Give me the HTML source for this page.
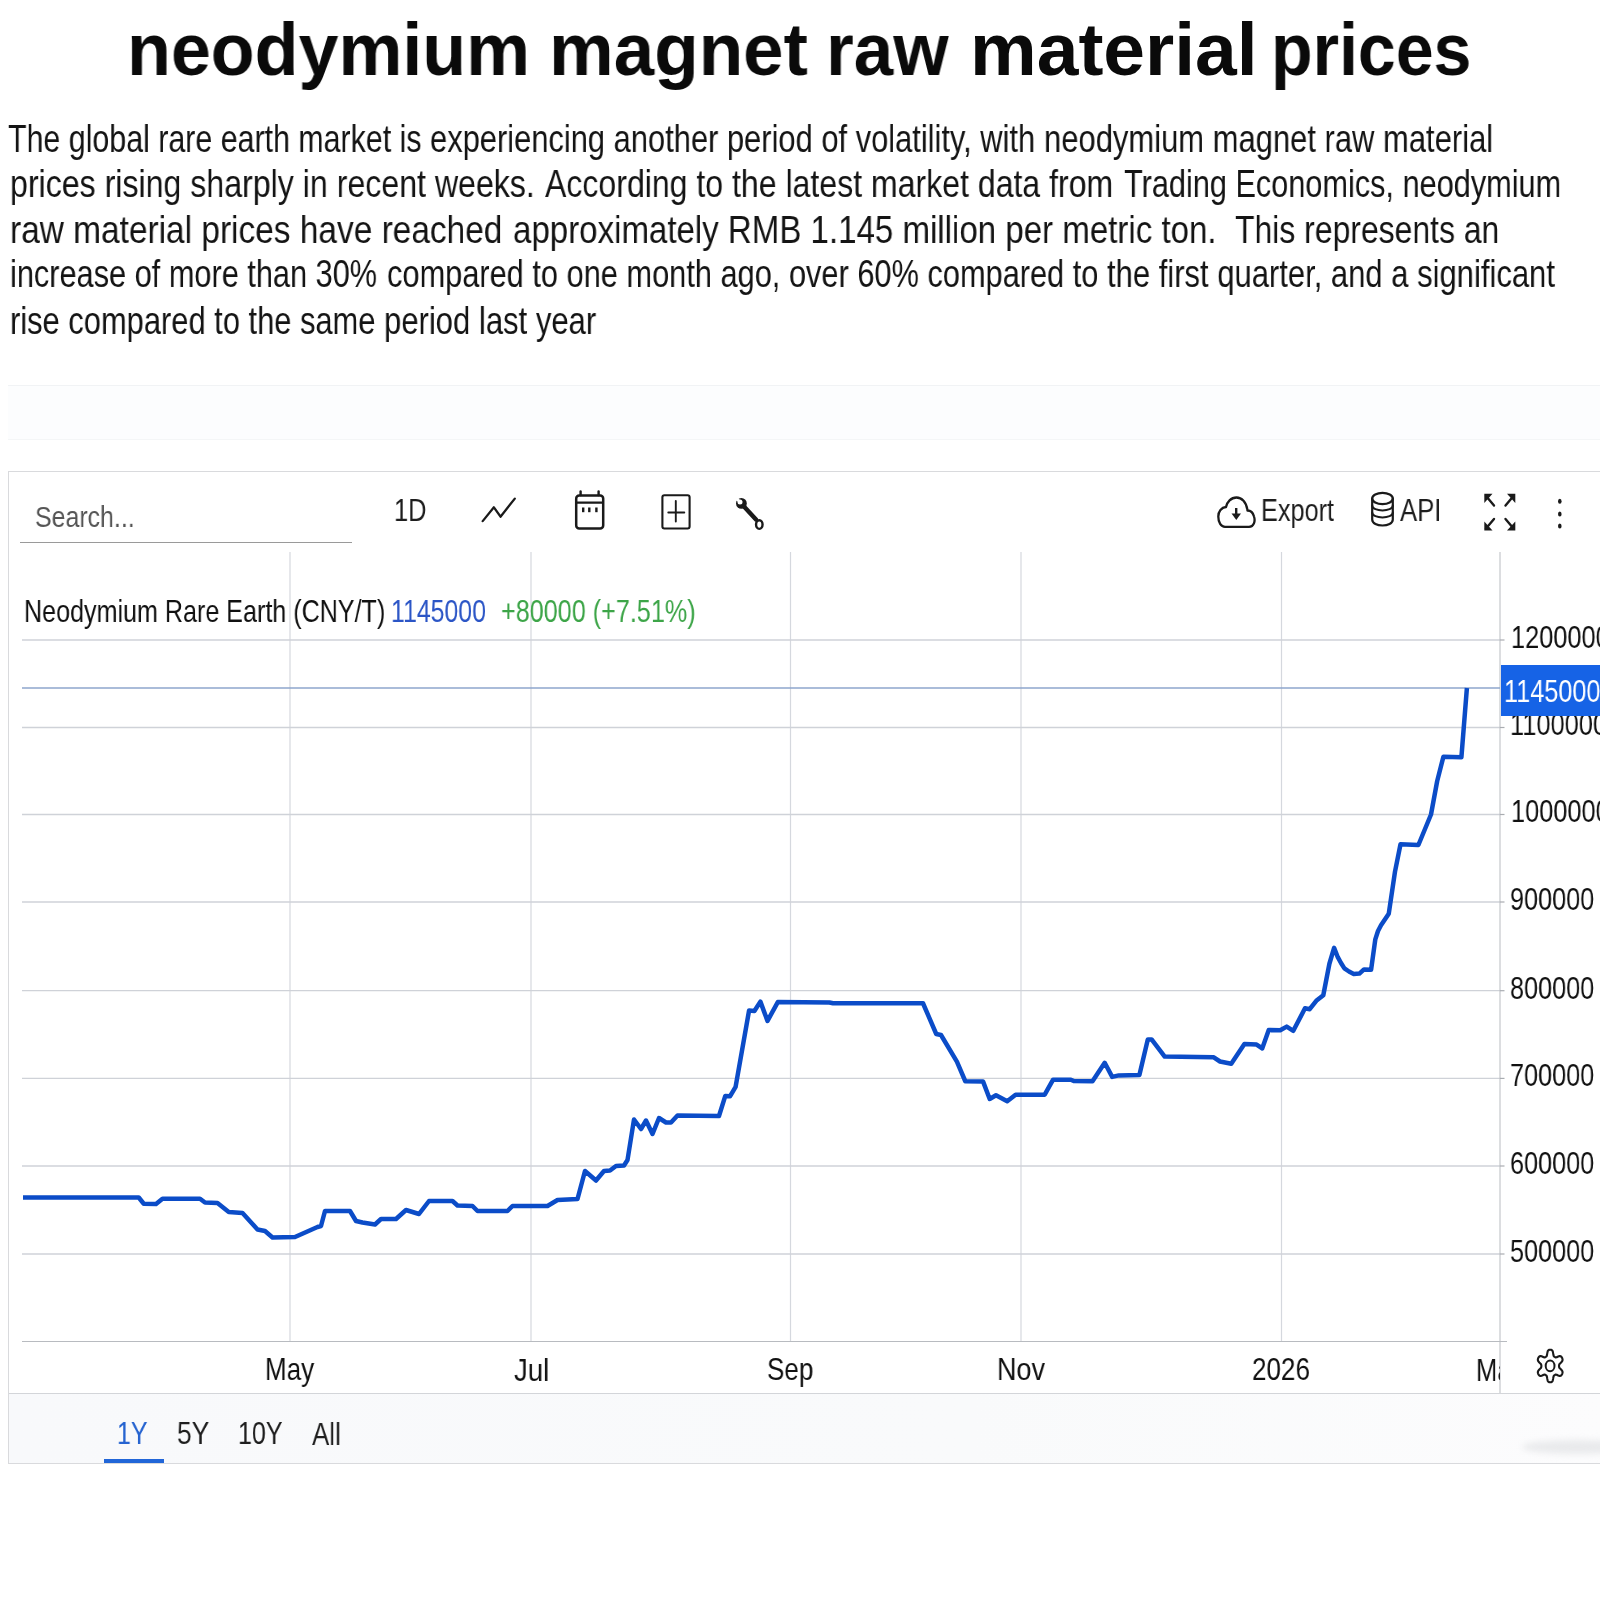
<!DOCTYPE html>
<html><head><meta charset="utf-8">
<style>
html,body{margin:0;padding:0;background:#fff;}
body{width:1600px;height:1600px;position:relative;overflow:hidden;font-family:"Liberation Sans",sans-serif;color:#111;}
.t{position:absolute;white-space:nowrap;transform-origin:0 0;line-height:1;will-change:transform;}
.tt{font-weight:700;font-size:74px;color:#0a0a0a;}
.p{font-size:38px;color:#141414;}
.ax{font-size:29px;color:#111;}
svg{position:absolute;left:0;top:0;}
</style></head><body>
<div id="band" style="position:absolute;left:8px;top:385px;width:1600px;height:55px;background:#fcfdfe;border-top:1.5px solid #f1f3f5;border-bottom:1px solid #f4f6f7;box-sizing:border-box"></div>



<!-- chart container -->
<div id="foot" style="position:absolute;left:8px;top:1393px;width:1600px;height:71px;background:linear-gradient(90deg,#f8f9fb 0%,#f9fafb 60%,#fcfcfd 100%);border-top:1px solid #d3d5d9;border-bottom:1px solid #d9dbde;box-sizing:border-box;"></div>
<div style="position:absolute;left:1522px;top:1440px;width:110px;height:14px;border-radius:50%;background:#e9eaec;filter:blur(3px);"></div>
<div id="box" style="position:absolute;left:8px;top:471px;width:1600px;height:993px;border:1px solid #d9dadd;box-sizing:border-box;"></div>

<svg width="1600" height="1600" viewBox="0 0 1600 1600">
  <!-- search underline -->
  <line x1="20" y1="542.5" x2="352" y2="542.5" stroke="#9a9a9a" stroke-width="1"/>
  <!-- vertical gridlines -->
  <g stroke="#d5d8de" stroke-width="1.2">
    <line x1="290" y1="552" x2="290" y2="1341"/>
    <line x1="531" y1="552" x2="531" y2="1341"/>
    <line x1="790.5" y1="552" x2="790.5" y2="1341"/>
    <line x1="1021" y1="552" x2="1021" y2="1341"/>
    <line x1="1281.5" y1="552" x2="1281.5" y2="1341"/>
  </g>
  <!-- horizontal gridlines -->
  <g stroke="#cfd2d8" stroke-width="1.3">
    <line x1="22" y1="640" x2="1500" y2="640"/>
    <line x1="22" y1="727.5" x2="1500" y2="727.5"/>
    <line x1="22" y1="814.5" x2="1500" y2="814.5"/>
    <line x1="22" y1="902" x2="1500" y2="902"/>
    <line x1="22" y1="990.7" x2="1500" y2="990.7"/>
    <line x1="22" y1="1078.4" x2="1500" y2="1078.4"/>
    <line x1="22" y1="1166" x2="1500" y2="1166"/>
    <line x1="22" y1="1254" x2="1500" y2="1254"/>
  </g>
  <line x1="22" y1="1341.5" x2="1507" y2="1341.5" stroke="#b8bbc0" stroke-width="1.2"/>
  <line x1="1500" y1="552" x2="1500" y2="1393" stroke="#b9bcc1" stroke-width="1"/>
  <!-- current price line -->
  <line x1="22" y1="688" x2="1500" y2="688" stroke="#8ea6cc" stroke-width="1.5"/>
  <!-- data line -->
  <polyline fill="none" stroke="#0b4cc8" stroke-width="4.5" stroke-linejoin="round" stroke-linecap="butt"
   points="23,1197.5 138.75,1197.5 143.75,1203.75 156,1204 162.5,1198.75 200,1198.75 205,1202.5 217.5,1203 228.75,1212 242.5,1213 257.5,1229.5 265,1231 272.5,1237.5 295,1237 317.5,1227 321,1226 325,1211 350,1211 356,1221 362.5,1222.5 375,1224.5 381,1219 392.5,1219 396,1219 406,1210 419,1214 429,1201 452.5,1201 457.5,1205.5 472.5,1206 477.5,1211 507.5,1211 512.5,1206 547.5,1206 557.5,1200 577.5,1199 585,1171 596,1180.5 604,1171 610,1170.5 616,1166 624,1165.5 627.5,1160 634,1119.5 641,1129 646,1120.5 652.5,1134 659,1118 666,1122.5 671,1122.5 677.5,1115.5 719,1116 725.3,1095.9 730,1096.3 735.6,1086.9 749.1,1010.4 754.4,1011 760.4,1001.6 767.5,1020.9 777.8,1002.1 829.4,1002.5 833,1003.25 923,1003.25 936.25,1034 941,1035 956.9,1061.6 965.3,1081.25 983.1,1081.6 989.7,1099 996,1095.25 1007.2,1101.25 1015.6,1094.7 1044.7,1094.7 1053.1,1079.7 1070.9,1079.7 1073.75,1081 1092.5,1081.2 1104.7,1062.8 1112.2,1076.9 1118.75,1075.4 1139.4,1075 1147.8,1039.4 1151.6,1039.4 1164.7,1056.6 1213.4,1057.2 1220,1061.5 1231.25,1063.75 1244.4,1044 1256.6,1044.6 1262.2,1048.4 1268.75,1030 1280.2,1030.3 1286.7,1026.6 1293.3,1030.8 1305,1008.3 1309.7,1009.2 1316.25,1000.8 1323.3,995.2 1329.4,963.75 1334.1,947.8 1337.8,957.2 1341,963 1344.4,968.4 1349,971.5 1353.75,974 1359.4,973.6 1364,969.4 1371.1,969.8 1375.3,939.4 1378,931 1381,925.3 1388.75,913.75 1395,871.6 1400.5,844.2 1418.4,845 1431,814.5 1437.2,781 1443.4,756.7 1461.4,757.2 1466.9,688"/>
  <!-- ticks -->
  <g stroke="#a9acb1" stroke-width="1.2">
    <line x1="1500" y1="640" x2="1504.5" y2="640"/>
    <line x1="1500" y1="727.5" x2="1504.5" y2="727.5"/>
    <line x1="1500" y1="814.5" x2="1504.5" y2="814.5"/>
    <line x1="1500" y1="902" x2="1504.5" y2="902"/>
    <line x1="1500" y1="990.7" x2="1504.5" y2="990.7"/>
    <line x1="1500" y1="1078.4" x2="1504.5" y2="1078.4"/>
    <line x1="1500" y1="1166" x2="1504.5" y2="1166"/>
    <line x1="1500" y1="1254" x2="1504.5" y2="1254"/>
  </g>
  <!-- price label box -->
  <!-- 1Y underline -->
  <rect x="104" y="1459" width="60" height="4" fill="#2166d8"/>
</svg>

<svg id="icons" width="1600" height="1600" viewBox="0 0 1600 1600" style="position:absolute;left:0;top:0">
 <g fill="none" stroke="#1a1a1a" stroke-linecap="round" stroke-linejoin="round">
  <!-- line-chart icon -->
  <polyline points="482.7,521.1 493.9,507.3 500.5,516.7 514.8,498.6" stroke-width="2.3"/>
  <!-- calendar -->
  <rect x="576.2" y="495.6" width="27" height="32.8" rx="3" stroke-width="2.5"/>
  <line x1="577" y1="502.6" x2="602.5" y2="502.6" stroke-width="2.4"/>
  <line x1="580.6" y1="491.5" x2="580.6" y2="495" stroke-width="2.4"/>
  <line x1="598.6" y1="491.5" x2="598.6" y2="495" stroke-width="2.4"/>
  <!-- plus square -->
  <rect x="662.4" y="495.3" width="27.2" height="33.2" rx="2" stroke-width="2.1"/>
  <line x1="668.3" y1="512.5" x2="684.3" y2="512.5" stroke-width="1.9"/>
  <line x1="675.8" y1="501" x2="675.8" y2="521.5" stroke-width="1.9"/>
  <!-- wrench -->
  <line x1="743.5" y1="506" x2="756" y2="519.5" stroke-width="4.4"/>
  <ellipse cx="759.3" cy="524.6" rx="3.25" ry="4.3" stroke-width="2.4"/>
  <!-- cloud -->
  <path d="M1225,526.8 L1249,526.8 C1254,526.8 1255.5,521 1254,516.5 C1253,512.5 1250,510.5 1247.5,510.5 C1246.5,502 1241.5,497.5 1236.5,497.5 C1231,497.5 1227,502 1226,507 C1221.5,507.5 1218.3,511.5 1218.3,516.5 C1218.3,522.5 1221,526.8 1225,526.8 Z" stroke-width="2.3"/>
  <!-- database -->
  <ellipse cx="1382.5" cy="498.5" rx="10.3" ry="5.6" stroke-width="2.2"/>
  <path d="M1372.2,498.5 L1372.2,519.5 C1372.2,527.5 1392.8,527.5 1392.8,519.5 L1392.8,498.5" stroke-width="2.2"/>
  <path d="M1372.2,505.5 C1372.2,512 1392.8,512 1392.8,505.5" stroke-width="2"/>
  <path d="M1372.2,512.5 C1372.2,519 1392.8,519 1392.8,512.5" stroke-width="2"/>
  <!-- gear -->
  <path d="M1550.2,1349.7 L1551.1,1349.8 L1551.9,1350.2 L1552.7,1351.2 L1553.1,1353.1 L1553.4,1354.9 L1553.7,1356.0 L1554.1,1356.5 L1554.6,1356.9 L1555.1,1357.2 L1555.7,1357.4 L1556.7,1357.2 L1558.2,1356.5 L1559.7,1356.0 L1560.8,1356.3 L1561.5,1357.0 L1562.1,1357.8 L1562.4,1358.8 L1562.6,1359.9 L1562.2,1361.1 L1561.1,1362.5 L1559.8,1363.7 L1559.2,1364.6 L1559.1,1365.3 L1559.0,1366.0 L1559.1,1366.7 L1559.2,1367.4 L1559.8,1368.3 L1561.1,1369.5 L1562.2,1370.9 L1562.6,1372.1 L1562.4,1373.2 L1562.1,1374.2 L1561.5,1375.0 L1560.8,1375.7 L1559.7,1376.0 L1558.2,1375.5 L1556.7,1374.8 L1555.7,1374.6 L1555.1,1374.8 L1554.6,1375.1 L1554.1,1375.5 L1553.7,1376.0 L1553.4,1377.1 L1553.1,1378.9 L1552.7,1380.8 L1551.9,1381.8 L1551.1,1382.2 L1550.2,1382.3 L1549.3,1382.2 L1548.5,1381.8 L1547.7,1380.8 L1547.3,1378.9 L1547.0,1377.1 L1546.7,1376.0 L1546.3,1375.5 L1545.8,1375.1 L1545.3,1374.8 L1544.7,1374.6 L1543.7,1374.8 L1542.2,1375.5 L1540.7,1376.0 L1539.6,1375.7 L1538.9,1375.0 L1538.3,1374.2 L1538.0,1373.2 L1537.8,1372.1 L1538.2,1370.9 L1539.3,1369.5 L1540.6,1368.3 L1541.2,1367.4 L1541.3,1366.7 L1541.4,1366.0 L1541.3,1365.3 L1541.2,1364.6 L1540.6,1363.7 L1539.3,1362.5 L1538.2,1361.1 L1537.8,1359.9 L1538.0,1358.8 L1538.3,1357.8 L1538.9,1357.0 L1539.6,1356.3 L1540.7,1356.0 L1542.2,1356.5 L1543.7,1357.2 L1544.7,1357.4 L1545.3,1357.2 L1545.8,1356.9 L1546.3,1356.5 L1546.7,1356.0 L1547.0,1354.9 L1547.3,1353.1 L1547.7,1351.2 L1548.5,1350.2 L1549.3,1349.8Z" stroke-width="2.1"/>
  <ellipse cx="1550.1" cy="1365.9" rx="4.4" ry="5.3" stroke-width="2"/>
  <!-- expand arrows -->
  <g stroke-width="2.4">
   <line x1="1486" y1="496" x2="1494" y2="505.5"/>
   <line x1="1513.5" y1="496" x2="1505.5" y2="505.5"/>
   <line x1="1486" y1="528.5" x2="1494" y2="519"/>
   <line x1="1513.5" y1="528.5" x2="1505.5" y2="519"/>
  </g>
 </g>
 <g fill="#1a1a1a">
  <!-- calendar dots -->
  <rect x="582" y="507.5" width="2.4" height="4.7"/>
  <rect x="588.1" y="507.5" width="2.4" height="4.7"/>
  <rect x="595.2" y="507.5" width="2.4" height="4.7"/>
  <!-- wrench head -->
  <circle cx="741.4" cy="503.4" r="5.4"/>
  <!-- download arrow -->
  <rect x="1235" y="508" width="2.4" height="6"/>
  <path d="M1231.5,513.5 L1241,513.5 L1236.3,520 Z"/>
  <!-- expand heads -->
  <path d="M1484.3,493.8 L1492.5,493.8 L1484.3,503 Z"/>
  <path d="M1515.3,493.8 L1507,493.8 L1515.3,503 Z"/>
  <path d="M1484.3,530.5 L1492.5,530.5 L1484.3,521.5 Z"/>
  <path d="M1515.3,530.5 L1507,530.5 L1515.3,521.5 Z"/>
  <!-- kebab -->
  <ellipse cx="1559.8" cy="501.3" rx="1.8" ry="2.5"/>
  <ellipse cx="1559.8" cy="513.9" rx="1.8" ry="2.5"/>
  <ellipse cx="1559.8" cy="525.9" rx="1.8" ry="2.5"/>
 </g>
 <circle cx="740" cy="502" r="2.5" fill="#fff"/>
 <path d="M736,498 L740,502" stroke="#fff" stroke-width="2.6"/>
</svg>
<!--TEXT-->
<div class="t" id="search" style="left:35.28px;top:502.40px;font-size:30px;color:#555555;transform:scaleX(0.8305);">Search...</div>
<div class="t" id="oneD" style="left:393.79px;top:494.44px;font-size:32px;color:#1e1e1e;transform:scaleX(0.7939);">1D</div>
<div class="t" id="export" style="left:1261.35px;top:494.57px;font-size:31px;color:#1e1e1e;transform:scaleX(0.8145);">Export</div>
<div class="t" id="api" style="left:1399.74px;top:494.57px;font-size:31px;color:#1e1e1e;transform:scaleX(0.8287);">API</div>
<div class="t" id="legk" style="left:23.99px;top:594.80px;font-size:32px;color:#111;transform:scaleX(0.7844);">Neodymium Rare Earth (CNY/T)</div>
<div class="t" id="legb" style="left:390.70px;top:594.80px;font-size:32px;color:#2b55c6;transform:scaleX(0.7771);">1145000</div>
<div class="t" id="legg" style="left:500.61px;top:594.80px;font-size:32px;color:#3da548;transform:scaleX(0.7868);">+80000 (+7.51%)</div>
<div class="t" id="y12" style="left:1510.97px;top:622.47px;font-size:31px;color:#111;transform:scaleX(0.8172);">1200000</div>
<div class="t" id="y11" style="left:1510.37px;top:709.47px;font-size:31px;color:#111;transform:scaleX(0.8190);">1100000</div>
<div class="t" id="y10" style="left:1510.97px;top:796.17px;font-size:31px;color:#111;transform:scaleX(0.8172);">1000000</div>
<div class="t" id="y9" style="left:1509.86px;top:884.27px;font-size:31px;color:#111;transform:scaleX(0.8137);">900000</div>
<div class="t" id="y8" style="left:1509.86px;top:973.07px;font-size:31px;color:#111;transform:scaleX(0.8137);">800000</div>
<div class="t" id="y7" style="left:1509.86px;top:1059.87px;font-size:31px;color:#111;transform:scaleX(0.8137);">700000</div>
<div class="t" id="y6" style="left:1509.86px;top:1147.97px;font-size:31px;color:#111;transform:scaleX(0.8137);">600000</div>
<div class="t" id="y5" style="left:1509.86px;top:1235.97px;font-size:31px;color:#111;transform:scaleX(0.8137);">500000</div>
<div class="t" id="cur" style="left:1504.20px;top:676.37px;font-size:31px;color:#fff;transform:scaleX(0.8137);z-index:3;">1145000</div>
<div class="t" id="xmay" style="left:265.08px;top:1353.24px;font-size:32px;color:#111;transform:scaleX(0.8122);">May</div>
<div class="t" id="xjul" style="left:514.39px;top:1354.24px;font-size:32px;color:#111;transform:scaleX(0.8620);">Jul</div>
<div class="t" id="xsep" style="left:767.31px;top:1353.24px;font-size:32px;color:#111;transform:scaleX(0.8135);">Sep</div>
<div class="t" id="xnov" style="left:996.52px;top:1353.24px;font-size:32px;color:#111;transform:scaleX(0.8433);">Nov</div>
<div class="t" id="x2026" style="left:1251.56px;top:1353.24px;font-size:32px;color:#111;transform:scaleX(0.8140);">2026</div>
<div class="t" id="f1y" style="left:117.16px;top:1417.34px;font-size:32px;color:#2563d0;transform:scaleX(0.7803);">1Y</div>
<div class="t" id="f5y" style="left:176.84px;top:1417.34px;font-size:32px;color:#1e1e1e;transform:scaleX(0.8259);">5Y</div>
<div class="t" id="f10y" style="left:238.01px;top:1417.34px;font-size:32px;color:#1e1e1e;transform:scaleX(0.7842);">10Y</div>
<div class="t" id="fall" style="left:311.58px;top:1418.34px;font-size:32px;color:#1e1e1e;transform:scaleX(0.8113);">All</div>
<div class="t p" id="p1a" style="left:8.02px;top:119.80px;transform:scaleX(0.7991);">The global rare earth market is</div>
<div class="t p" id="p1b" style="left:430.00px;top:119.80px;transform:scaleX(0.8124);">experiencing another period of volatility, with</div>
<div class="t p" id="p1c" style="left:1043.98px;top:119.80px;transform:scaleX(0.8148);">neodymium magnet raw material</div>
<div class="t p" id="p2a" style="left:9.98px;top:165.00px;transform:scaleX(0.8453);">prices rising sharply in recent weeks.</div>
<div class="t p" id="p2b" style="left:544.50px;top:165.00px;transform:scaleX(0.8433);">According to the latest market data from</div>
<div class="t p" id="p2c" style="left:1124.03px;top:165.00px;transform:scaleX(0.8075);">Trading Economics, neodymium</div>
<div class="t p" id="p3a" style="left:9.98px;top:210.75px;transform:scaleX(0.8797);">raw material prices have reached</div>
<div class="t p" id="p3b" style="left:512.51px;top:210.75px;transform:scaleX(0.8698);">approximately RMB 1.145 million per metric ton.</div>
<div class="t p" id="p3c" style="left:1235.03px;top:210.75px;transform:scaleX(0.8398);">This represents an</div>
<div class="t p" id="p4a" style="left:10.01px;top:255.00px;transform:scaleX(0.8083);">increase of more than 30%</div>
<div class="t p" id="p4b" style="left:387.00px;top:255.00px;transform:scaleX(0.8096);">compared to one month ago, over 60% compared to</div>
<div class="t p" id="p4c" style="left:1107.00px;top:255.00px;transform:scaleX(0.8155);">the first quarter, and a significant</div>
<div class="t p" id="p5a" style="left:9.51px;top:301.75px;transform:scaleX(0.8124);">rise compared to the same</div>
<div class="t p" id="p5b" style="left:383.99px;top:301.75px;transform:scaleX(0.8166);">period last year</div>
<div class="t tt" id="tw1" style="left:127.18px;top:13.00px;transform:scaleX(0.9703);">neodymium</div>
<div class="t tt" id="tw2" style="left:548.61px;top:13.00px;transform:scaleX(0.9836);">magnet</div>
<div class="t tt" id="tw3" style="left:826.22px;top:13.00px;transform:scaleX(0.9615);">raw</div>
<div class="t tt" id="tw4" style="left:970.43px;top:13.00px;transform:scaleX(1.0133);">material</div>
<div class="t tt" id="tw5" style="left:1270.95px;top:13.00px;transform:scaleX(0.9193);">prices</div>
<!--/TEXT-->
<div id="curbox" style="position:absolute;left:1500.5px;top:664.5px;width:100px;height:51px;background:#1663e6;z-index:2"></div>
<div style="position:absolute;left:1470px;top:1345px;width:30px;height:46px;overflow:hidden;"><div class="t" id="xmar" style="left:6.2px;top:9px;font-size:32px;color:#111;transform:scaleX(0.80);">Mar</div></div>

</body></html>
